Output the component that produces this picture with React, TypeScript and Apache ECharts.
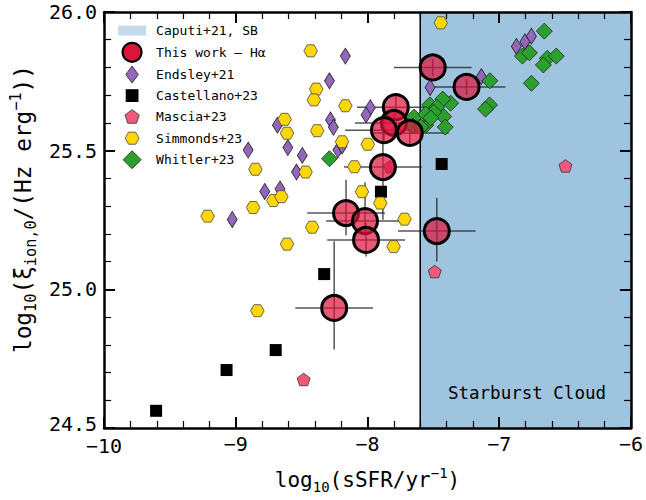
import React, { useEffect, useRef } from "react";
import * as echarts from "echarts";

const X_MIN = -10;
const X_MAX = -6;
const Y_MIN = 24.5;
const Y_MAX = 26.0;

const starburstRange = [-7.6, -6];

const thisWorkX = [-7.505, -7.248, -7.785, -7.8, -7.875, -7.679, -7.883, -8.163, -8.019, -8.011, -8.253, -7.474];
const thisWorkY = [25.8, 25.73, 25.657, 25.6, 25.574, 25.564, 25.441, 25.275, 25.246, 25.178, 24.933, 25.21];
const thisWorkXErr = [0.295, 0.295, 0.295, 0.295, 0.295, 0.295, 0.295, 0.295, 0.295, 0.295, 0.295, 0.295];
const thisWorkYErrLo = [0.03, 0.03, 0.03, 0.05, 0.05, 0.05, 0.19, 0.08, 0.05, 0.06, 0.15, 0.11];
const thisWorkYErrHi = [0.03, 0.03, 0.05, 0.05, 0.05, 0.05, 0.19, 0.12, 0.14, 0.06, 0.24, 0.12];

const endsleyX = [-8.168, -8.289, -7.979, -8.011, -8.684, -8.281, -8.259, -8.906, -8.605, -8.495, -8.539, -8.225, -8.193, -8.78, -8.664, -9.027, -6.87, -6.805, -6.756, -7.136, -7.525];
const endsleyY = [25.841, 25.752, 25.655, 25.629, 25.592, 25.611, 25.584, 25.502, 25.511, 25.483, 25.423, 25.502, 25.517, 25.353, 25.362, 25.252, 25.876, 25.893, 25.913, 25.767, 25.728];

const castellanoX = [-9.605, -9.07, -8.697, -8.329, -7.898, -7.437];
const castellanoY = [24.562, 24.709, 24.781, 25.055, 25.352, 25.452];

const masciaX = [-8.485, -6.497, -7.49, -7.828, -7.648];
const masciaY = [24.675, 25.445, 25.064, 25.442, 25.585];

const simmondsX = [-8.432, -8.389, -8.407, -8.168, -8.629, -8.611, -8.382, -8.193, -7.998, -8.851, -8.47, -8.1, -8.042, -8.715, -8.654, -8.868, -7.903, -7.444, -9.214, -8.42, -8.611, -7.802, -7.719, -8.836];
const simmondsY = [25.86, 25.722, 25.683, 25.662, 25.613, 25.563, 25.572, 25.532, 25.523, 25.433, 25.423, 25.442, 25.352, 25.32, 25.334, 25.295, 25.311, 25.961, 25.264, 25.224, 25.163, 25.154, 25.253, 24.923];

const whitlerX = [-6.658, -6.824, -6.771, -6.635, -6.567, -6.665, -6.756, -7.071, -7.074, -7.104, -7.369, -7.429, -7.527, -7.474, -7.422, -7.497, -7.41, -7.646, -7.656, -7.558, -7.595, -7.558, -7.52, -8.289];
const whitlerY = [25.931, 25.841, 25.853, 25.833, 25.841, 25.809, 25.743, 25.752, 25.665, 25.65, 25.671, 25.686, 25.665, 25.657, 25.623, 25.639, 25.585, 25.621, 25.589, 25.592, 25.585, 25.632, 25.618, 25.471];

const seriesNames = [
  "Caputi+21, SB",
  "This work – Hα",
  "Endsley+21",
  "Castellano+23",
  "Mascia+23",
  "Simmonds+23",
  "Whitler+23",
];

const MONO = '"DejaVu Sans Mono", monospace';

const zip = (xs: number[], ys: number[]) => xs.map((x, i) => [x, ys[i]]);

const PAD = "M0 0L0 0M38 20L38 20";
const HEX_SYMBOL = "path://M14 6.06L10.5 12.12L3.5 12.12L0 6.06L3.5 0L10.5 0Z";
const PENT_SYMBOL = "path://M7 0L13.66 4.84L11.11 12.67L2.89 12.67L0.34 4.84Z";

const fmtX = (v: number) => {
  const s = v < 0 ? "\u2212" + Math.abs(v) : String(v);
  return v === X_MIN ? "{lo|" + s + "}" : s;
};
const fmtY = (v: number) => (v === Y_MIN ? "{lo|" + v.toFixed(1) + "}" : v.toFixed(1));

export default function App() {
  const ref = useRef<HTMLDivElement>(null);
  useEffect(() => {
    if (!ref.current) return;
    const chart = echarts.init(ref.current, undefined, { renderer: "svg" });

    const axisCommon = {
      type: "value",
      axisLine: { show: true, onZero: false, lineStyle: { color: "#000", width: 2.5 } },
      axisTick: { show: true, inside: true, length: 11, lineStyle: { color: "#000", width: 2 } },
      minorTick: { show: true, splitNumber: 5, length: 7, lineStyle: { color: "#000", width: 1.2 } },
      splitLine: { show: false },
      minorSplitLine: { show: false },
    };

    const richX = {
      m: { fontSize: 21, fontFamily: MONO, color: "#000", lineHeight: 28 },
      s: { fontSize: 14, fontFamily: MONO, color: "#000", lineHeight: 14, verticalAlign: "bottom" },
      p: { fontSize: 14, fontFamily: MONO, color: "#000", lineHeight: 14, verticalAlign: "top" },
    };
    const richY = {
      m: { fontSize: 22.8, fontFamily: MONO, color: "#000", lineHeight: 30 },
      s: { fontSize: 15.2, fontFamily: MONO, color: "#000", lineHeight: 15, verticalAlign: "bottom" },
      p: { fontSize: 15.2, fontFamily: MONO, color: "#000", lineHeight: 15, verticalAlign: "top" },
    };

    const errData = thisWorkX.map((x, i) => [x, thisWorkY[i], thisWorkXErr[i], thisWorkYErrLo[i], thisWorkYErrHi[i]]);

    const option: any = {
      animation: false,
      backgroundColor: "#fff",
      grid: { left: 102, right: 15, top: 12, bottom: 72, containLabel: false },
      xAxis: [
        {
          ...axisCommon,
          min: X_MIN,
          max: X_MAX,
          interval: 1,
          position: "bottom",
          axisLabel: {
            formatter: fmtX,
            fontSize: 20,
            lineHeight: 16,
            fontFamily: MONO,
            color: "#000",
            margin: 8,
            rich: { lo: { fontSize: 20, fontFamily: MONO, color: "#000", lineHeight: 16, padding: [4, 0, 0, 0] } },
          },
          name: "{m|log}{s|10}{m|(sSFR/yr}{p|\u22121}{m|)}",
          nameLocation: "middle",
          nameGap: 38,
          nameTextStyle: { rich: richX },
        },
        {
          ...axisCommon,
          min: X_MIN,
          max: X_MAX,
          interval: 1,
          position: "top",
          axisLabel: { show: false },
        },
      ],
      yAxis: [
        {
          ...axisCommon,
          min: Y_MIN,
          max: Y_MAX,
          interval: 0.5,
          position: "left",
          axisLabel: {
            formatter: fmtY,
            fontSize: 20,
            lineHeight: 16,
            fontFamily: MONO,
            color: "#000",
            margin: 7,
            rich: { lo: { fontSize: 20, fontFamily: MONO, color: "#000", lineHeight: 16, padding: [0, 0, 8, 0] } },
          },
          name: "{m|log}{s|10}{m|(ξ}{s|ion,0}{m|/(Hz erg}{p|\u22121}{m|))}",
          nameLocation: "middle",
          nameGap: 60,
          nameTextStyle: { rich: richY, padding: [0, 0, 0, 22] },
        },
        {
          ...axisCommon,
          min: Y_MIN,
          max: Y_MAX,
          interval: 0.5,
          position: "right",
          axisLabel: { show: false },
        },
      ],
      legend: {
        orient: "vertical",
        left: 112,
        top: 20.5,
        padding: 0,
        itemWidth: 38,
        itemHeight: 20,
        itemGap: 0.7,
        selectedMode: false,
        textStyle: { fontFamily: MONO, fontSize: 13, color: "#000" },
        data: [
          { name: seriesNames[0], icon: "path://" + PAD + "M5 5H33V15H5Z", itemStyle: { color: "#c4dbeb", borderWidth: 0 } },
          { name: seriesNames[1], icon: "path://" + PAD + "M28.5 10A9.5 9.5 0 1 1 9.5 10A9.5 9.5 0 1 1 28.5 10Z", itemStyle: { color: "#dc143c", borderColor: "#000", borderWidth: 2.2 } },
          { name: seriesNames[2], icon: "path://" + PAD + "M19 1.5L25.3 10L19 18.5L12.7 10Z", itemStyle: { color: "#9467bd", borderColor: "#222", borderWidth: 0.8 } },
          { name: seriesNames[3], icon: "path://" + PAD + "M12.6 3.6H25.4V16.4H12.6Z", itemStyle: { color: "#000", borderColor: "#000", borderWidth: 0 } },
          { name: seriesNames[4], icon: "path://" + PAD + "M19 3L26.13 8.18L23.41 16.57L14.59 16.57L11.87 8.18Z", itemStyle: { color: "#f0587c", borderColor: "#333", borderWidth: 0.8 } },
          { name: seriesNames[5], icon: "path://" + PAD + "M26 10L22.5 16.06L15.5 16.06L12 10L15.5 3.94L22.5 3.94Z", itemStyle: { color: "#ffd700", borderColor: "#444", borderWidth: 0.8 } },
          { name: seriesNames[6], icon: "path://" + PAD + "M19 1L28 10L19 19L10 10Z", itemStyle: { color: "#2ca02c", borderColor: "#222", borderWidth: 0.8 } },
        ],
      },
      graphic: [
        {
          type: "text",
          x: 606,
          y: 393,
          style: {
            text: "Starburst Cloud",
            font: '17.5px "DejaVu Sans Mono", monospace',
            fill: "#000",
            textAlign: "right",
            textVerticalAlign: "middle",
          },
          z: 50,
        },
      ],
      series: [
        {
          name: seriesNames[0],
          type: "custom",
          z: 0,
          silent: true,
          itemStyle: { color: "#9fc4df" },
          data: [[starburstRange[0], starburstRange[1]]],
          encode: { x: [0, 1] },
          renderItem: (params: any, api: any) => {
            const p0 = api.coord([api.value(0), Y_MAX]);
            const p1 = api.coord([api.value(1), Y_MIN]);
            return {
              type: "group",
              children: [
                {
                  type: "rect",
                  shape: { x: p0[0], y: p0[1], width: p1[0] - p0[0], height: p1[1] - p0[1] },
                  style: { fill: "#9fc4df" },
                },
                {
                  type: "line",
                  shape: { x1: p0[0], y1: p0[1], x2: p0[0], y2: p1[1] },
                  style: { stroke: "#000", lineWidth: 1.5 },
                },
              ],
            };
          },
        },
        {
          name: "errorbars",
          type: "custom",
          z: 1,
          silent: true,
          data: errData,
          encode: { x: 0, y: 1 },
          renderItem: (params: any, api: any) => {
            const x = api.value(0);
            const y = api.value(1);
            const xe = api.value(2);
            const ylo = api.value(3);
            const yhi = api.value(4);
            const l = api.coord([x - xe, y]);
            const r = api.coord([x + xe, y]);
            const b = api.coord([x, y - ylo]);
            const t = api.coord([x, y + yhi]);
            const st = { stroke: "rgba(30,30,30,0.75)", lineWidth: 1.5 };
            return {
              type: "group",
              children: [
                { type: "line", shape: { x1: l[0], y1: l[1], x2: r[0], y2: r[1] }, style: st },
                { type: "line", shape: { x1: b[0], y1: b[1], x2: t[0], y2: t[1] }, style: st },
              ],
            };
          },
        },
        {
          name: seriesNames[2],
          type: "scatter",
          z: 2,
          symbol: "diamond",
          symbolSize: [10, 16],
          itemStyle: { color: "#9467bd", borderColor: "#222", borderWidth: 0.8, opacity: 1 },
          data: zip(endsleyX, endsleyY),
        },
        {
          name: seriesNames[3],
          type: "scatter",
          z: 2,
          symbol: "rect",
          symbolSize: 12,
          itemStyle: { color: "#000", opacity: 1 },
          data: zip(castellanoX, castellanoY),
        },
        {
          name: seriesNames[4],
          type: "scatter",
          z: 2,
          symbol: PENT_SYMBOL,
          symbolSize: [13, 12.5],
          itemStyle: { color: "#f0587c", borderColor: "#333", borderWidth: 0.8, opacity: 1 },
          data: zip(masciaX, masciaY),
        },
        {
          name: seriesNames[5],
          type: "scatter",
          z: 2,
          symbol: HEX_SYMBOL,
          symbolSize: [13.5, 12],
          itemStyle: { color: "#ffd700", borderColor: "#444", borderWidth: 0.8, opacity: 1 },
          data: zip(simmondsX, simmondsY),
        },
        {
          name: seriesNames[6],
          type: "scatter",
          z: 2,
          symbol: "diamond",
          symbolSize: 16,
          itemStyle: { color: "#2ca02c", borderColor: "#222", borderWidth: 0.8, opacity: 1 },
          data: zip(whitlerX, whitlerY),
        },
        {
          name: seriesNames[1],
          type: "scatter",
          z: 3,
          symbol: "circle",
          symbolSize: 25,
          itemStyle: { color: "rgba(220,20,60,0.7)", borderColor: "#000", borderWidth: 3, opacity: 1 },
          data: zip(thisWorkX, thisWorkY),
        },
      ],
    };

    chart.setOption(option);
    return () => chart.dispose();
  }, []);

  return (
    <div
      ref={ref}
      style={{ position: "fixed", left: 0, top: 0, width: 646, height: 500, background: "#fff" }}
    />
  );
}
